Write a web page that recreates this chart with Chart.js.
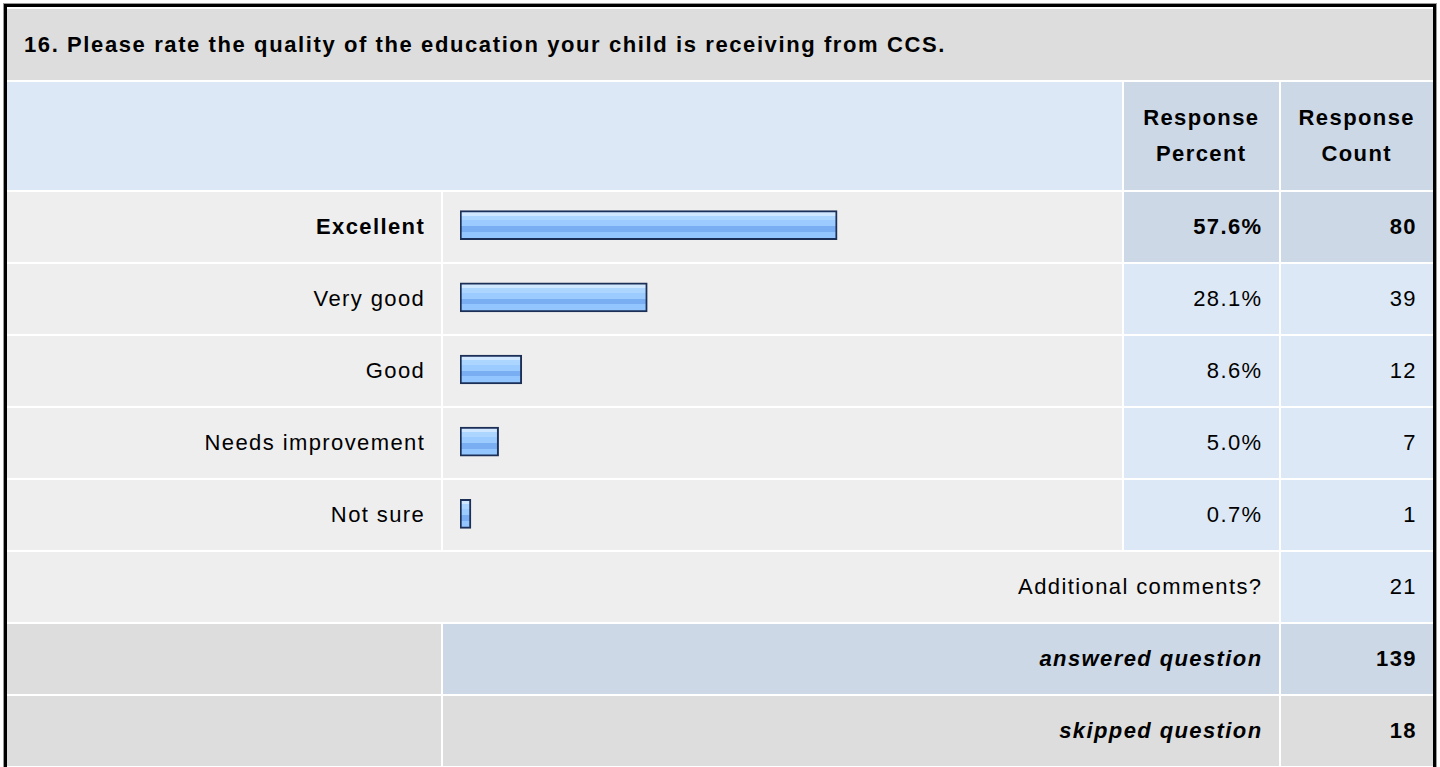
<!DOCTYPE html>
<html>
<head>
<meta charset="utf-8">
<script src="https://cdn.jsdelivr.net/npm/chart.js@4.4.1/dist/chart.umd.min.js"></script>
<style>
  html, body { margin: 0; padding: 0; background: #fff; }
  body { font-family: "Liberation Sans", Arial, sans-serif; color: #000; }
  .wrap { position: absolute; left: 4px; top: 4px; width: 1426px; border: 3px solid #000; border-bottom: none; outline: 1px solid #999; }
  table { border-collapse: separate; border-spacing: 2px; table-layout: fixed; width: 1430px; margin: 0 -2px; font-size: 22px; letter-spacing: 1.4px; }
  td { padding: 0 16px; height: 70px; text-align: right; white-space: nowrap; }
  td.title { height: 71px; background: #dddddd; text-align: left; font-weight: bold; padding-left: 17px; letter-spacing: 1.6px; }
  .hblank { background: #dce8f5; height: 108px; }
  .hcol { background: #ccd8e6; font-weight: bold; text-align: center; line-height: 36px; padding: 0; }
  .lab { background: #eeeeee; }
  .bar { background: #eeeeee; }
  .val { background: #dce8f5; }
  .top { font-weight: bold; }
  .top.val { background: #ccd8e6; }
  .sum { background: #ccd8e6; font-weight: bold; font-style: italic; }
  .sumv { background: #ccd8e6; font-weight: bold; }
  .grey { background: #dddddd; }
  .greyb { background: #dddddd; font-weight: bold; font-style: italic; }
  .greyv { background: #dddddd; font-weight: bold; }
  #chartBox { position: absolute; left: 460px; top: 189px; width: 650px; height: 361px; }
</style>
</head>
<body>
<div class="wrap">
  <table id="tbl">
    <colgroup><col style="width:433px"><col style="width:677px"><col style="width:154px"><col style="width:152px"></colgroup>
    <tbody id="tb"></tbody>
  </table>
</div>
<div id="chartBox"><canvas id="barChart" width="650" height="361"></canvas></div>
<script>
const question = '16. Please rate the quality of the education your child is receiving from CCS.';
const categories = ['Excellent', 'Very good', 'Good', 'Needs improvement', 'Not sure'];
const percents = [57.6, 28.1, 8.6, 5.0, 0.7];
const counts = [80, 39, 12, 7, 1];
const commentsCount = 21;
const answered = 139;
const skipped = 18;

// table body
const tb = document.getElementById('tb');
let html = '<tr><td class="title" colspan="4">' + question + '</td></tr>';
html += '<tr><td class="hblank" colspan="2"></td><td class="hcol">Response<br>Percent</td><td class="hcol">Response<br>Count</td></tr>';
const maxPct = Math.max(...percents);
categories.forEach((c, i) => {
    const t = percents[i] === maxPct ? ' top' : '';
    html += '<tr><td class="lab' + t + '">' + c + '</td><td class="bar"></td>' +
        '<td class="val' + t + '">' + percents[i].toFixed(1) + '%</td>' +
        '<td class="val' + t + '">' + counts[i] + '</td></tr>';
});
html += '<tr><td class="lab" colspan="3">Additional comments?</td><td class="val">' + commentsCount + '</td></tr>';
html += '<tr><td class="grey"></td><td class="sum" colspan="2">answered question</td><td class="sumv">' + answered + '</td></tr>';
html += '<tr><td class="grey"></td><td class="greyb" colspan="2">skipped question</td><td class="greyv">' + skipped + '</td></tr>';
tb.innerHTML = html;

// glossy bar fill, banded like the original image bars
function barFill(ctx) {
    const chart = ctx.chart;
    const y = chart.scales && chart.scales.y;
    if (!y || ctx.dataIndex === undefined) return '#9ccbff';
    const yc = y.getPixelForValue(ctx.dataIndex);
    if (!Number.isFinite(yc)) return '#9ccbff';
    const g = chart.ctx.createLinearGradient(0, yc - 14.5, 0, yc + 14.5);
    g.addColorStop(0, '#cfe8ff');
    g.addColorStop(0.17, '#cfe8ff');
    g.addColorStop(0.17, '#acd5ff');
    g.addColorStop(0.34, '#acd5ff');
    g.addColorStop(0.34, '#9ccbff');
    g.addColorStop(0.545, '#9ccbff');
    g.addColorStop(0.545, '#79aef3');
    g.addColorStop(0.74, '#79aef3');
    g.addColorStop(0.74, '#93c6ff');
    g.addColorStop(1, '#93c6ff');
    return g;
}

const barCtx = document.getElementById('barChart').getContext('2d');
const chart = new Chart(barCtx, {
    type: 'bar',
    data: {
        labels: categories,
        datasets: [{
            data: percents,
            base: -1,
            backgroundColor: barFill,
            borderColor: '#1b2f57',
            borderWidth: 2,
            borderSkipped: false,
            barThickness: 29
        }]
    },
    options: {
        indexAxis: 'y',
        responsive: false,
        animation: false,
        layout: { padding: 0 },
        plugins: {
            legend: { display: false },
            tooltip: { enabled: false }
        },
        scales: {
            x: { display: false, min: -1, max: 100 },
            y: { display: false }
        }
    }
});
chart.update();
</script>
</body>
</html>
